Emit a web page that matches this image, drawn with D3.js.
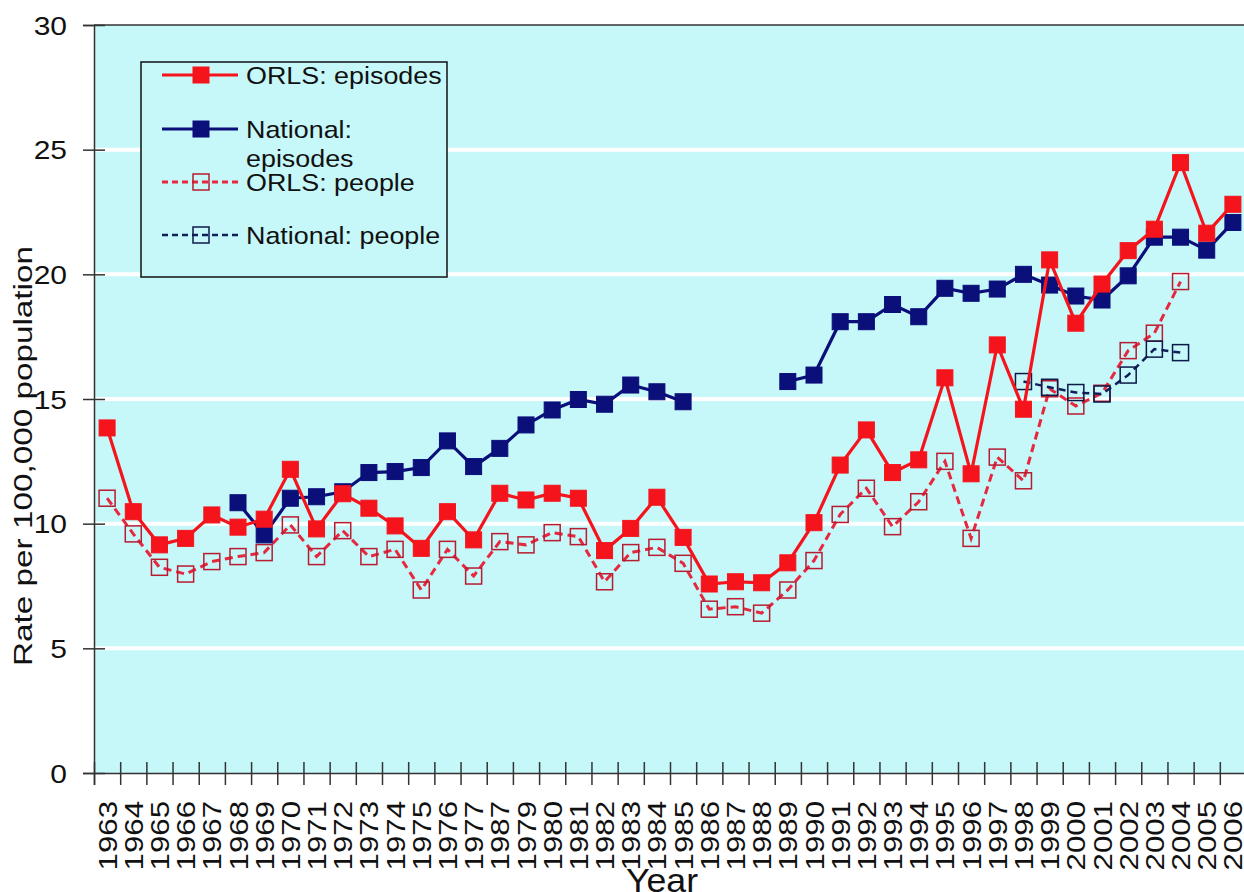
<!DOCTYPE html>
<html>
<head>
<meta charset="utf-8">
<script src="https://cdn.jsdelivr.net/npm/d3@7/dist/d3.min.js"></script>
<style>
  html, body { margin: 0; padding: 0; background: #ffffff; }
  svg { display: block; font-family: "Liberation Sans", Arial, sans-serif; }
</style>
</head>
<body>
<svg id="chart" width="1244" height="892"></svg>
<script>
// ==============================
// DATA
// ==============================
// note: the original chart labels 1978 as "1987"
const yearLabels = [
  "1963","1964","1965","1966","1967","1968","1969","1970","1971","1972",
  "1973","1974","1975","1976","1977","1987","1979","1980","1981","1982",
  "1983","1984","1985","1986","1987","1988","1989","1990","1991","1992",
  "1993","1994","1995","1996","1997","1998","1999","2000","2001","2002",
  "2003","2004","2005","2006"
];

const orlsEpisodes = [
  13.84, 10.48, 9.15, 9.41, 10.35, 9.86, 10.18, 12.18, 9.79, 11.2,
  10.62, 9.91, 9.01, 10.48, 9.35, 11.22, 10.95, 11.22, 11.02, 8.92,
  9.81, 11.06, 9.45, 7.58, 7.67, 7.63, 8.43, 10.04, 12.35, 13.76,
  12.05, 12.56, 15.85, 12.0, 17.17, 14.59, 20.58, 18.04, 19.61, 20.95,
  21.81, 24.48, 21.65, 22.81
];

const nationalEpisodes = [
  null, null, null, null, null, 10.84, 9.55, 11.02, 11.08, 11.28,
  12.05, 12.09, 12.25, 13.32, 12.29, 13.02, 13.96, 14.56, 14.98, 14.79,
  15.56, 15.29, 14.89, null, null, null, 15.70, 15.96, 18.10, 18.10,
  18.79, 18.30, 19.44, 19.24, 19.41, 20.0, 19.57, 19.13, 18.97, 19.94,
  21.49, 21.49, 20.97, 22.08
];

const orlsPeople = [
  11.02, 9.59, 8.25, 7.98, 8.48, 8.68, 8.84, 9.95, 8.68, 9.72,
  8.68, 8.97, 7.34, 8.97, 7.90, 9.28, 9.15, 9.64, 9.48, 7.67,
  8.84, 9.05, 8.41, 6.57, 6.67, 6.41, 7.34, 8.52, 10.37, 11.42,
  9.88, 10.88, 12.5, 9.41, 12.67, 11.72, 15.41, 14.72, 15.23, 16.94,
  17.64, 19.71, null, null
];

const nationalPeople = [
  null, null, null, null, null, null, null, null, null, null,
  null, null, null, null, null, null, null, null, null, null,
  null, null, null, null, null, null, null, null, null, null,
  null, null, null, null, null, 15.70, 15.47, 15.26, 15.20, 15.96,
  17.0, 16.86, null, null
];

const yTicks = [0, 5, 10, 15, 20, 25, 30];
const gridValues = [5, 10, 15, 20, 25];

// ==============================
// LAYOUT / STYLE
// ==============================
const plot = { left: 94, right: 1246, top: 25, bottom: 773 };
const BG = "#c6f7f9";
const RED = "#f5141c";
const NAVY = "#0a0f7a";

const series = [
  { name: ["ORLS: episodes"], values: orlsEpisodes, color: RED, width: 3.2, dash: null, filled: true, mStroke: RED },
  { name: ["National:", "episodes"], values: nationalEpisodes, color: NAVY, width: 3.2, dash: null, filled: true, mStroke: NAVY },
  { name: ["ORLS: people"], values: orlsPeople, color: "#e6283f", width: 3, dash: "8,5", filled: false, mStroke: "#b81c30" },
  { name: ["National: people"], values: nationalPeople, color: "#10205a", width: 2.5, dash: "7,5", filled: false, mStroke: "#0c1a48" }
];

const svg = d3.select("#chart");

// ==============================
// SCALES
// ==============================
const idx = d3.range(yearLabels.length);
const x = d3.scaleBand().domain(idx).range([plot.left, plot.right]).padding(0);
const xEdge = d3.scaleLinear().domain([0, yearLabels.length]).range([plot.left, plot.right]);
const y = d3.scaleLinear().domain([0, 30]).range([plot.bottom, plot.top]);
const cx = i => x(i) + x.bandwidth() / 2;

// ==============================
// PLOT AREA
// ==============================
svg.append("rect")
  .attr("x", plot.left).attr("y", plot.top)
  .attr("width", plot.right - plot.left).attr("height", plot.bottom - plot.top)
  .attr("fill", BG);

svg.append("g").selectAll("line")
  .data(gridValues)
  .join("line")
  .attr("x1", plot.left).attr("x2", plot.right)
  .attr("y1", d => y(d)).attr("y2", d => y(d))
  .attr("stroke", "#ffffff").attr("stroke-width", 4);

// top border
svg.append("line")
  .attr("x1", plot.left).attr("x2", plot.right)
  .attr("y1", y(30)).attr("y2", y(30))
  .attr("stroke", "#333").attr("stroke-width", 1.5);

// ==============================
// AXES
// ==============================
const yAxis = svg.append("g")
  .attr("transform", `translate(${plot.left},0)`)
  .call(d3.axisLeft(y).tickValues(yTicks).tickSize(11).tickPadding(0));
yAxis.select(".domain").attr("stroke", "#333").attr("stroke-width", 1.5);
yAxis.selectAll(".tick line").attr("x1", 11).attr("stroke", "#333").attr("stroke-width", 1.5);
yAxis.selectAll(".tick text")
  .attr("x", 0).attr("dy", null)
  .attr("transform", "translate(-27,9) scale(1.2,1)")
  .attr("font-size", 25)
  .attr("font-family", "Liberation Sans, Arial, sans-serif")
  .attr("fill", "#111");

// boundary ticks on the x axis
const xTickAxis = svg.append("g")
  .attr("transform", `translate(0,${plot.bottom})`)
  .call(d3.axisBottom(xEdge).tickValues(d3.range(yearLabels.length + 1)).tickSize(12).tickFormat(""));
xTickAxis.select(".domain").attr("stroke", "#333").attr("stroke-width", 1.5);
xTickAxis.selectAll(".tick line").attr("y1", -11).attr("stroke", "#333").attr("stroke-width", 1.5);

// year labels at band centres
const xLabelAxis = svg.append("g")
  .attr("transform", `translate(0,${plot.bottom})`)
  .call(d3.axisBottom(x).tickSize(0).tickFormat(i => yearLabels[i]));
xLabelAxis.select(".domain").remove();
xLabelAxis.selectAll(".tick text")
  .attr("y", null).attr("dy", null)
  .attr("text-anchor", "end")
  .attr("transform", "translate(9.5,28) rotate(-90) scale(1.2,1)")
  .attr("font-size", 26)
  .attr("font-family", "Liberation Sans, Arial, sans-serif")
  .attr("fill", "#111");

// axis titles
svg.append("text")
  .attr("transform", "translate(32,456) rotate(-90) scale(1.28,1)")
  .attr("text-anchor", "middle")
  .attr("font-size", 26)
  .attr("fill", "#111")
  .text("Rate per 100,000 population");

svg.append("text")
  .attr("transform", "translate(662,892) scale(1.05,1)")
  .attr("text-anchor", "middle")
  .attr("font-size", 34)
  .attr("fill", "#111")
  .text("Year");

// ==============================
// SERIES
// ==============================
const line = d3.line()
  .defined(d => d.v != null)
  .x(d => cx(d.i))
  .y(d => y(d.v));

function drawMarkers(g, s, pts, size) {
  g.selectAll("rect")
    .data(pts)
    .join("rect")
    .attr("x", d => cx(d.i) - size / 2)
    .attr("y", d => y(d.v) - size / 2)
    .attr("width", size).attr("height", size)
    .attr("fill", s.filled ? s.color : "none")
    .attr("stroke", s.mStroke)
    .attr("stroke-width", s.filled ? 1 : 1.5);
}

// draw people series first, episodes on top
[2, 3, 1, 0].forEach(k => {
  const s = series[k];
  const pts = s.values.map((v, i) => ({ i, v }));
  svg.append("path")
    .datum(pts)
    .attr("d", line)
    .attr("fill", "none")
    .attr("stroke", s.color)
    .attr("stroke-width", s.width)
    .attr("stroke-dasharray", s.dash);
  const g = svg.append("g");
  drawMarkers(g, s, pts.filter(d => d.v != null), 16);
});

// ==============================
// LEGEND
// ==============================
const legend = svg.append("g");
legend.append("rect")
  .attr("x", 141).attr("y", 62).attr("width", 306).attr("height", 215)
  .attr("fill", BG).attr("stroke", "#111").attr("stroke-width", 1.5);

const legendRows = [75, 129, 182, 235];
series.forEach((s, k) => {
  const ly = legendRows[k];
  legend.append("line")
    .attr("x1", 162).attr("x2", 238).attr("y1", ly).attr("y2", ly)
    .attr("stroke", s.color).attr("stroke-width", s.width)
    .attr("stroke-dasharray", s.dash ? "6,4" : null);
  const size = 16;
  legend.append("rect")
    .attr("x", 201 - size / 2).attr("y", ly - size / 2)
    .attr("width", size).attr("height", size)
    .attr("fill", s.filled ? s.color : "none")
    .attr("stroke", s.mStroke)
    .attr("stroke-width", s.filled ? 1 : 1.5);
  s.name.forEach((t, j) => {
    legend.append("text")
      .attr("transform", `translate(246,${ly + 9 + j * 29}) scale(1.12,1)`)
      .attr("font-size", 24)
      .attr("fill", "#111")
      .text(t);
  });
});
</script>
</body>
</html>
